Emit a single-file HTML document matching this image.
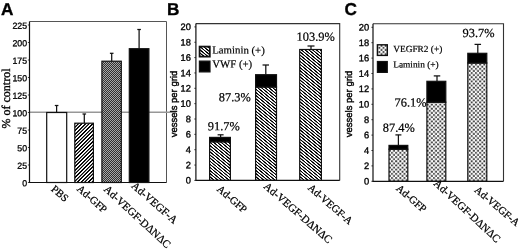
<!DOCTYPE html>
<html><head><meta charset="utf-8"><title>Figure</title>
<style>
html,body{margin:0;padding:0;background:#fff;}
svg{display:block;}
text{text-rendering:geometricPrecision;}
.bl{filter:blur(0.35px);}
.tk{font-family:"Liberation Sans",Arial,sans-serif;font-size:8.8px;fill:#000;stroke:#000;stroke-width:0.28px;}
.tk2{font-family:"Liberation Sans",Arial,sans-serif;font-size:9.3px;fill:#000;stroke:#000;stroke-width:0.35px;}
.pl{font-family:"Liberation Sans",Arial,sans-serif;font-size:17.2px;font-weight:bold;fill:#000;stroke:#000;stroke-width:0.35px;}
.yl{font-family:"Liberation Serif","Times New Roman",serif;font-size:12px;fill:#000;stroke:#000;stroke-width:0.35px;}
.yv{font-family:"Liberation Sans",Arial,sans-serif;font-size:9.5px;fill:#000;stroke:#000;stroke-width:0.4px;}
.xl{font-family:"Liberation Serif","Times New Roman",serif;font-size:10.6px;fill:#000;stroke:#000;stroke-width:0.25px;}
.lg{font-family:"Liberation Serif","Times New Roman",serif;font-size:10.8px;fill:#000;stroke:#000;stroke-width:0.2px;}
.lg2{font-family:"Liberation Serif","Times New Roman",serif;font-size:9.35px;fill:#000;stroke:#000;stroke-width:0.2px;}
.pc{font-family:"Liberation Serif","Times New Roman",serif;font-size:12.4px;fill:#000;stroke:#000;stroke-width:0.22px;}
</style></head><body>
<svg width="520" height="252" viewBox="0 0 520 252">
<defs>
<filter id="ct" color-interpolation-filters="sRGB" x="0" y="0" width="1" height="1"><feComponentTransfer><feFuncR type="linear" slope="1.8" intercept="-0.4"/><feFuncG type="linear" slope="1.8" intercept="-0.4"/><feFuncB type="linear" slope="1.8" intercept="-0.4"/></feComponentTransfer></filter>
<pattern id="dotA" width="2" height="2" patternUnits="userSpaceOnUse">
<rect width="2" height="2" fill="#303030"/>
<rect width="1" height="1" fill="#a8a8a8"/><rect x="1" y="1" width="1" height="1" fill="#a8a8a8"/>
</pattern>
<pattern id="chk" width="4.2" height="4.2" patternUnits="userSpaceOnUse" x="0.3" y="0.6">
<rect width="4.2" height="4.2" fill="#fff"/>
<rect x="0.15" y="0.15" width="1.8" height="1.8" fill="#2a2a2a"/><rect x="2.25" y="2.25" width="1.8" height="1.8" fill="#2a2a2a"/>
</pattern>
</defs>
<rect width="520" height="252" fill="#fff"/>
<g>
<clipPath id="c1"><rect x="74.8" y="123.2" width="18.60000000000001" height="59.3"/></clipPath><g clip-path="url(#c1)"><g filter="url(#ct)"><rect x="72.8" y="121.2" width="22.60000000000001" height="63.3" fill="#fff"/><path d="M72.70 122.20L11.40 183.50M76.30 122.20L15.00 183.50M79.90 122.20L18.60 183.50M83.50 122.20L22.20 183.50M87.10 122.20L25.80 183.50M90.70 122.20L29.40 183.50M94.30 122.20L33.00 183.50M97.90 122.20L36.60 183.50M101.50 122.20L40.20 183.50M105.10 122.20L43.80 183.50M108.70 122.20L47.40 183.50M112.30 122.20L51.00 183.50M115.90 122.20L54.60 183.50M119.50 122.20L58.20 183.50M123.10 122.20L61.80 183.50M126.70 122.20L65.40 183.50M130.30 122.20L69.00 183.50M133.90 122.20L72.60 183.50M137.50 122.20L76.20 183.50M141.10 122.20L79.80 183.50M144.70 122.20L83.40 183.50M148.30 122.20L87.00 183.50M151.90 122.20L90.60 183.50M155.50 122.20L94.20 183.50" stroke="#000" stroke-width="1.3" fill="none"/></g></g>
<clipPath id="c2"><rect x="209.6" y="141.8" width="20.80000000000001" height="38.599999999999994"/></clipPath><g clip-path="url(#c2)"><g filter="url(#ct)"><rect x="207.6" y="139.8" width="24.80000000000001" height="42.599999999999994" fill="#fff"/><path d="M159.25 140.80L208.05 181.40M163.00 140.80L211.80 181.40M166.75 140.80L215.55 181.40M170.50 140.80L219.30 181.40M174.25 140.80L223.05 181.40M178.00 140.80L226.80 181.40M181.75 140.80L230.55 181.40M185.50 140.80L234.30 181.40M189.25 140.80L238.05 181.40M193.00 140.80L241.80 181.40M196.75 140.80L245.55 181.40M200.50 140.80L249.30 181.40M204.25 140.80L253.05 181.40M208.00 140.80L256.80 181.40M211.75 140.80L260.55 181.40M215.50 140.80L264.30 181.40M219.25 140.80L268.05 181.40M223.00 140.80L271.80 181.40M226.75 140.80L275.55 181.40M230.50 140.80L279.30 181.40" stroke="#000" stroke-width="1.1" fill="none"/></g></g>
<clipPath id="c3"><rect x="255.6" y="87" width="20.900000000000006" height="93.4"/></clipPath><g clip-path="url(#c3)"><g filter="url(#ct)"><rect x="253.6" y="85" width="24.900000000000006" height="97.4" fill="#fff"/><path d="M139.39 86.00L254.05 181.40M143.14 86.00L257.80 181.40M146.89 86.00L261.55 181.40M150.64 86.00L265.30 181.40M154.39 86.00L269.05 181.40M158.14 86.00L272.80 181.40M161.89 86.00L276.55 181.40M165.64 86.00L280.30 181.40M169.39 86.00L284.05 181.40M173.14 86.00L287.80 181.40M176.89 86.00L291.55 181.40M180.64 86.00L295.30 181.40M184.39 86.00L299.05 181.40M188.14 86.00L302.80 181.40M191.89 86.00L306.55 181.40M195.64 86.00L310.30 181.40M199.39 86.00L314.05 181.40M203.14 86.00L317.80 181.40M206.89 86.00L321.55 181.40M210.64 86.00L325.30 181.40M214.39 86.00L329.05 181.40M218.14 86.00L332.80 181.40M221.89 86.00L336.55 181.40M225.64 86.00L340.30 181.40M229.39 86.00L344.05 181.40M233.14 86.00L347.80 181.40M236.89 86.00L351.55 181.40M240.64 86.00L355.30 181.40M244.39 86.00L359.05 181.40M248.14 86.00L362.80 181.40M251.89 86.00L366.55 181.40M255.64 86.00L370.30 181.40M259.39 86.00L374.05 181.40M263.14 86.00L377.80 181.40M266.89 86.00L381.55 181.40M270.64 86.00L385.30 181.40M274.39 86.00L389.05 181.40M278.14 86.00L392.80 181.40" stroke="#000" stroke-width="1.1" fill="none"/></g></g>
<clipPath id="c4"><rect x="299.7" y="49.5" width="21.69999999999999" height="130.9"/></clipPath><g clip-path="url(#c4)"><g filter="url(#ct)"><rect x="297.7" y="47.5" width="25.69999999999999" height="134.9" fill="#fff"/><path d="M138.42 48.50L298.15 181.40M142.17 48.50L301.90 181.40M145.92 48.50L305.65 181.40M149.67 48.50L309.40 181.40M153.42 48.50L313.15 181.40M157.17 48.50L316.90 181.40M160.92 48.50L320.65 181.40M164.67 48.50L324.40 181.40M168.42 48.50L328.15 181.40M172.17 48.50L331.90 181.40M175.92 48.50L335.65 181.40M179.67 48.50L339.40 181.40M183.42 48.50L343.15 181.40M187.17 48.50L346.90 181.40M190.92 48.50L350.65 181.40M194.67 48.50L354.40 181.40M198.42 48.50L358.15 181.40M202.17 48.50L361.90 181.40M205.92 48.50L365.65 181.40M209.67 48.50L369.40 181.40M213.42 48.50L373.15 181.40M217.17 48.50L376.90 181.40M220.92 48.50L380.65 181.40M224.67 48.50L384.40 181.40M228.42 48.50L388.15 181.40M232.17 48.50L391.90 181.40M235.92 48.50L395.65 181.40M239.67 48.50L399.40 181.40M243.42 48.50L403.15 181.40M247.17 48.50L406.90 181.40M250.92 48.50L410.65 181.40M254.67 48.50L414.40 181.40M258.42 48.50L418.15 181.40M262.17 48.50L421.90 181.40M265.92 48.50L425.65 181.40M269.67 48.50L429.40 181.40M273.42 48.50L433.15 181.40M277.17 48.50L436.90 181.40M280.92 48.50L440.65 181.40M284.67 48.50L444.40 181.40M288.42 48.50L448.15 181.40M292.17 48.50L451.90 181.40M295.92 48.50L455.65 181.40M299.67 48.50L459.40 181.40M303.42 48.50L463.15 181.40M307.17 48.50L466.90 181.40M310.92 48.50L470.65 181.40M314.67 48.50L474.40 181.40M318.42 48.50L478.15 181.40M322.17 48.50L481.90 181.40" stroke="#000" stroke-width="1.1" fill="none"/></g></g>
<clipPath id="c5"><rect x="199.6" y="46.6" width="10.200000000000017" height="10.0"/></clipPath><g clip-path="url(#c5)"><g filter="url(#ct)"><rect x="197.6" y="44.6" width="14.200000000000017" height="14.0" fill="#fff"/><path d="M183.63 45.60L198.05 57.60M187.38 45.60L201.80 57.60M191.13 45.60L205.55 57.60M194.88 45.60L209.30 57.60M198.63 45.60L213.05 57.60M202.38 45.60L216.80 57.60M206.13 45.60L220.55 57.60M209.88 45.60L224.30 57.60" stroke="#000" stroke-width="1.1" fill="none"/></g></g>
<rect x="389" y="149.2" width="18.80000000000001" height="32.10000000000002" fill="url(#chk)"/>
<rect x="426.9" y="102.2" width="18.900000000000034" height="79.10000000000001" fill="url(#chk)"/>
<rect x="467.8" y="63" width="19.0" height="118.30000000000001" fill="url(#chk)"/>
<rect x="377.4" y="44.8" width="9.900000000000034" height="10.600000000000001" fill="url(#chk)"/>
</g>
<g class="bl">
<path d="M29.5 21.5H166.5V182.5" fill="none" stroke="#555" stroke-width="1"/>
<line x1="29.5" y1="112.2" x2="176.3" y2="112.2" stroke="#979797" stroke-width="1.5"/>
<rect x="46.7" y="112.5" width="20.0" height="70.0" fill="#fff" stroke="#111" stroke-width="1.2"/>
<line x1="56.6" y1="105.5" x2="56.6" y2="112.5" stroke="#111" stroke-width="1.25"/><line x1="54.800000000000004" y1="105.5" x2="58.4" y2="105.5" stroke="#111" stroke-width="1.25"/>
<rect x="74.8" y="123.2" width="18.60000000000001" height="59.3" fill="none" stroke="#111" stroke-width="1.2"/>
<line x1="84.3" y1="114" x2="84.3" y2="123.2" stroke="#111" stroke-width="1.25"/><line x1="82.5" y1="114" x2="86.1" y2="114" stroke="#111" stroke-width="1.25"/>
<rect x="101.9" y="61.2" width="19.39999999999999" height="121.3" fill="url(#dotA)" stroke="#111" stroke-width="1.2"/>
<line x1="111.7" y1="53.3" x2="111.7" y2="61.2" stroke="#111" stroke-width="1.25"/><line x1="109.9" y1="53.3" x2="113.5" y2="53.3" stroke="#111" stroke-width="1.25"/>
<rect x="129.3" y="48.7" width="19.599999999999994" height="133.8" fill="#000" stroke="#111" stroke-width="1.2"/>
<line x1="139.1" y1="29.5" x2="139.1" y2="48.7" stroke="#111" stroke-width="1.25"/><line x1="137.29999999999998" y1="29.5" x2="140.9" y2="29.5" stroke="#111" stroke-width="1.25"/>
<path d="M29.5 21.5V182.5H166.5" fill="none" stroke="#111" stroke-width="1.2"/>
<line x1="27.9" y1="182.5" x2="29.5" y2="182.5" stroke="#111" stroke-width="0.8"/>
<text transform="translate(27.1 186.20) rotate(0.05)" class="tk" text-anchor="end">0</text>
<line x1="27.9" y1="165.0" x2="29.5" y2="165.0" stroke="#111" stroke-width="0.8"/>
<text transform="translate(27.1 168.70) rotate(0.05)" class="tk" text-anchor="end">25</text>
<line x1="27.9" y1="147.5" x2="29.5" y2="147.5" stroke="#111" stroke-width="0.8"/>
<text transform="translate(27.1 151.20) rotate(0.05)" class="tk" text-anchor="end">50</text>
<line x1="27.9" y1="130.0" x2="29.5" y2="130.0" stroke="#111" stroke-width="0.8"/>
<text transform="translate(27.1 133.70) rotate(0.05)" class="tk" text-anchor="end">75</text>
<line x1="27.9" y1="112.5" x2="29.5" y2="112.5" stroke="#111" stroke-width="0.8"/>
<text transform="translate(27.1 116.20) rotate(0.05)" class="tk" text-anchor="end">100</text>
<line x1="27.9" y1="95.0" x2="29.5" y2="95.0" stroke="#111" stroke-width="0.8"/>
<text transform="translate(27.1 98.70) rotate(0.05)" class="tk" text-anchor="end">125</text>
<line x1="27.9" y1="77.5" x2="29.5" y2="77.5" stroke="#111" stroke-width="0.8"/>
<text transform="translate(27.1 81.20) rotate(0.05)" class="tk" text-anchor="end">150</text>
<line x1="27.9" y1="60.0" x2="29.5" y2="60.0" stroke="#111" stroke-width="0.8"/>
<text transform="translate(27.1 63.70) rotate(0.05)" class="tk" text-anchor="end">175</text>
<line x1="27.9" y1="42.5" x2="29.5" y2="42.5" stroke="#111" stroke-width="0.8"/>
<text transform="translate(27.1 46.20) rotate(0.05)" class="tk" text-anchor="end">200</text>
<line x1="27.9" y1="25.0" x2="29.5" y2="25.0" stroke="#111" stroke-width="0.8"/>
<text transform="translate(27.1 28.70) rotate(0.05)" class="tk" text-anchor="end">225</text>
<text transform="translate(1 15.00) rotate(0.05)" class="pl" >A</text>
<text transform="translate(9.8 98.5) rotate(-90)" class="yl" text-anchor="middle">% of control</text>
<text transform="translate(50.5 189.9) rotate(41)" class="xl" >PBS</text>
<text transform="translate(76.2 189.8) rotate(41)" class="xl" >Ad-GFP</text>
<text transform="translate(103.2 190.1) rotate(42.7)" class="xl" style="font-size:10.95px">Ad-VEGF-DΔNΔC</text>
<text transform="translate(130.7 186.7) rotate(41)" class="xl" style="font-size:10.95px">Ad-VEGF-A </text>
<rect x="209.6" y="141.8" width="20.80000000000001" height="38.599999999999994" fill="none" stroke="#111" stroke-width="1.2"/>
<rect x="209.6" y="137.4" width="20.80000000000001" height="4.400000000000006" fill="#000" stroke="#111" stroke-width="1.2"/>
<line x1="220.6" y1="134.8" x2="220.6" y2="137.4" stroke="#111" stroke-width="1.25"/><line x1="217.6" y1="134.8" x2="223.6" y2="134.8" stroke="#111" stroke-width="1.25"/>
<rect x="255.6" y="87" width="20.900000000000006" height="93.4" fill="none" stroke="#111" stroke-width="1.2"/>
<rect x="255.6" y="74.7" width="20.900000000000006" height="12.299999999999997" fill="#000" stroke="#111" stroke-width="1.2"/>
<line x1="265.8" y1="65" x2="265.8" y2="74.5" stroke="#111" stroke-width="1.25"/><line x1="262.55" y1="65" x2="269.05" y2="65" stroke="#111" stroke-width="1.25"/>
<rect x="299.7" y="49.5" width="21.69999999999999" height="130.9" fill="none" stroke="#111" stroke-width="1.2"/>
<line x1="311" y1="46" x2="311" y2="49.5" stroke="#111" stroke-width="1.25"/><line x1="307.5" y1="46" x2="314.5" y2="46" stroke="#111" stroke-width="1.25"/>
<path d="M195.9 23.6H339.7V180.4" fill="none" stroke="#333" stroke-width="1.1"/>
<path d="M195.9 23.6V180.4H339.7" fill="none" stroke="#111" stroke-width="1.2"/>
<line x1="194.3" y1="180.4" x2="195.9" y2="180.4" stroke="#111" stroke-width="0.8"/>
<text transform="translate(190.8 183.60) rotate(0.05)" class="tk2" text-anchor="end">0</text>
<line x1="194.3" y1="165.05" x2="195.9" y2="165.05" stroke="#111" stroke-width="0.8"/>
<text transform="translate(190.8 168.25) rotate(0.05)" class="tk2" text-anchor="end">2</text>
<line x1="194.3" y1="149.70000000000002" x2="195.9" y2="149.70000000000002" stroke="#111" stroke-width="0.8"/>
<text transform="translate(190.8 152.90) rotate(0.05)" class="tk2" text-anchor="end">4</text>
<line x1="194.3" y1="134.35000000000002" x2="195.9" y2="134.35000000000002" stroke="#111" stroke-width="0.8"/>
<text transform="translate(190.8 137.55) rotate(0.05)" class="tk2" text-anchor="end">6</text>
<line x1="194.3" y1="119.0" x2="195.9" y2="119.0" stroke="#111" stroke-width="0.8"/>
<text transform="translate(190.8 122.20) rotate(0.05)" class="tk2" text-anchor="end">8</text>
<line x1="194.3" y1="103.65" x2="195.9" y2="103.65" stroke="#111" stroke-width="0.8"/>
<text transform="translate(190.8 106.85) rotate(0.05)" class="tk2" text-anchor="end">10</text>
<line x1="194.3" y1="88.30000000000001" x2="195.9" y2="88.30000000000001" stroke="#111" stroke-width="0.8"/>
<text transform="translate(190.8 91.50) rotate(0.05)" class="tk2" text-anchor="end">12</text>
<line x1="194.3" y1="72.95" x2="195.9" y2="72.95" stroke="#111" stroke-width="0.8"/>
<text transform="translate(190.8 76.15) rotate(0.05)" class="tk2" text-anchor="end">14</text>
<line x1="194.3" y1="57.60000000000001" x2="195.9" y2="57.60000000000001" stroke="#111" stroke-width="0.8"/>
<text transform="translate(190.8 60.80) rotate(0.05)" class="tk2" text-anchor="end">16</text>
<line x1="194.3" y1="42.25" x2="195.9" y2="42.25" stroke="#111" stroke-width="0.8"/>
<text transform="translate(190.8 45.45) rotate(0.05)" class="tk2" text-anchor="end">18</text>
<line x1="194.3" y1="26.900000000000006" x2="195.9" y2="26.900000000000006" stroke="#111" stroke-width="0.8"/>
<text transform="translate(190.8 30.10) rotate(0.05)" class="tk2" text-anchor="end">20</text>
<text transform="translate(176.6 104) rotate(-90)" class="yv" text-anchor="middle">vessels per grid</text>
<text transform="translate(167 15.00) rotate(0.05)" class="pl" >B</text>
<rect x="199.6" y="46.6" width="10.200000000000017" height="10.0" fill="none" stroke="#111" stroke-width="1.8"/>
<rect x="199.4" y="61.1" width="10.599999999999994" height="10.800000000000004" fill="#000" stroke="#111" stroke-width="1.2"/>
<text transform="translate(212.2 53.60) rotate(0.05)" class="lg" >Laminin (+)</text>
<text transform="translate(212.2 67.50) rotate(0.05)" class="lg" >VWF (+)</text>
<text transform="translate(207.8 130.20) rotate(0.05)" class="pc" >91.7%</text>
<text transform="translate(218.8 101.20) rotate(0.05)" class="pc" >87.3%</text>
<text transform="translate(296.6 40.80) rotate(0.05)" class="pc" >103.9%</text>
<text transform="translate(216.2 189.9) rotate(41)" class="xl" >Ad-GFP</text>
<text transform="translate(263.1 187.2) rotate(41)" class="xl" style="font-size:10.95px">Ad-VEGF-DΔNΔC</text>
<text transform="translate(307.3 188.8) rotate(41)" class="xl" >Ad-VEGF-A</text>
<rect x="389" y="149.2" width="18.80000000000001" height="32.10000000000002" fill="none" stroke="#111" stroke-width="1.2"/>
<rect x="389" y="145.4" width="18.80000000000001" height="3.799999999999983" fill="#000" stroke="#111" stroke-width="1.2"/>
<line x1="398.4" y1="134.9" x2="398.4" y2="145.4" stroke="#111" stroke-width="1.25"/><line x1="395.4" y1="134.9" x2="401.4" y2="134.9" stroke="#111" stroke-width="1.25"/>
<rect x="426.9" y="102.2" width="18.900000000000034" height="79.10000000000001" fill="none" stroke="#111" stroke-width="1.2"/>
<rect x="426.9" y="81.3" width="18.900000000000034" height="20.900000000000006" fill="#000" stroke="#111" stroke-width="1.2"/>
<line x1="437" y1="75.9" x2="437" y2="81.3" stroke="#111" stroke-width="1.25"/><line x1="433.75" y1="75.9" x2="440.25" y2="75.9" stroke="#111" stroke-width="1.25"/>
<rect x="467.8" y="63" width="19.0" height="118.30000000000001" fill="none" stroke="#111" stroke-width="1.2"/>
<rect x="467.8" y="53.3" width="19.0" height="9.700000000000003" fill="#000" stroke="#111" stroke-width="1.2"/>
<line x1="477.8" y1="44.4" x2="477.8" y2="53.3" stroke="#111" stroke-width="1.25"/><line x1="474.55" y1="44.4" x2="481.05" y2="44.4" stroke="#111" stroke-width="1.25"/>
<path d="M373 23.7H503.5V181.3" fill="none" stroke="#333" stroke-width="1.1"/>
<path d="M373 23.7V181.3H503.5" fill="none" stroke="#111" stroke-width="1.2"/>
<line x1="371.4" y1="181.3" x2="373" y2="181.3" stroke="#111" stroke-width="0.8"/>
<text transform="translate(369.2 184.50) rotate(0.05)" class="tk2" text-anchor="end">0</text>
<line x1="371.4" y1="165.9" x2="373" y2="165.9" stroke="#111" stroke-width="0.8"/>
<text transform="translate(369.2 169.10) rotate(0.05)" class="tk2" text-anchor="end">2</text>
<line x1="371.4" y1="150.5" x2="373" y2="150.5" stroke="#111" stroke-width="0.8"/>
<text transform="translate(369.2 153.70) rotate(0.05)" class="tk2" text-anchor="end">4</text>
<line x1="371.4" y1="135.10000000000002" x2="373" y2="135.10000000000002" stroke="#111" stroke-width="0.8"/>
<text transform="translate(369.2 138.30) rotate(0.05)" class="tk2" text-anchor="end">6</text>
<line x1="371.4" y1="119.70000000000002" x2="373" y2="119.70000000000002" stroke="#111" stroke-width="0.8"/>
<text transform="translate(369.2 122.90) rotate(0.05)" class="tk2" text-anchor="end">8</text>
<line x1="371.4" y1="104.30000000000001" x2="373" y2="104.30000000000001" stroke="#111" stroke-width="0.8"/>
<text transform="translate(369.2 107.50) rotate(0.05)" class="tk2" text-anchor="end">10</text>
<line x1="371.4" y1="88.9" x2="373" y2="88.9" stroke="#111" stroke-width="0.8"/>
<text transform="translate(369.2 92.10) rotate(0.05)" class="tk2" text-anchor="end">12</text>
<line x1="371.4" y1="73.50000000000001" x2="373" y2="73.50000000000001" stroke="#111" stroke-width="0.8"/>
<text transform="translate(369.2 76.70) rotate(0.05)" class="tk2" text-anchor="end">14</text>
<line x1="371.4" y1="58.10000000000001" x2="373" y2="58.10000000000001" stroke="#111" stroke-width="0.8"/>
<text transform="translate(369.2 61.30) rotate(0.05)" class="tk2" text-anchor="end">16</text>
<line x1="371.4" y1="42.70000000000002" x2="373" y2="42.70000000000002" stroke="#111" stroke-width="0.8"/>
<text transform="translate(369.2 45.90) rotate(0.05)" class="tk2" text-anchor="end">18</text>
<line x1="371.4" y1="27.30000000000001" x2="373" y2="27.30000000000001" stroke="#111" stroke-width="0.8"/>
<text transform="translate(369.2 30.50) rotate(0.05)" class="tk2" text-anchor="end">20</text>
<text transform="translate(352.3 104) rotate(-90)" class="yv" text-anchor="middle">vessels per grid</text>
<text transform="translate(344.4 15.00) rotate(0.05)" class="pl" >C</text>
<rect x="377.4" y="44.8" width="9.900000000000034" height="10.600000000000001" fill="none" stroke="#111" stroke-width="1.4"/>
<rect x="377.4" y="61.5" width="9.900000000000034" height="10.900000000000006" fill="#000" stroke="#111" stroke-width="1.2"/>
<text transform="translate(393.2 52.00) rotate(0.05)" class="lg2" >VEGFR2 (+)</text>
<text transform="translate(393.2 67.40) rotate(0.05)" class="lg2" >Laminin (+)</text>
<text transform="translate(382.8 131.80) rotate(0.05)" class="pc" >87.4%</text>
<text transform="translate(394.6 106.60) rotate(0.05)" class="pc" >76.1%</text>
<text transform="translate(462.5 37.00) rotate(0.05)" class="pc" >93.7%</text>
<text transform="translate(395.6 189.3) rotate(41)" class="xl" >Ad-GFP</text>
<text transform="translate(433.1 184.3) rotate(42.9)" class="xl" style="font-size:10.95px">Ad-VEGF-DΔNΔC</text>
<text transform="translate(473.8 191.1) rotate(40)" class="xl" >Ad-VEGF-A</text>
</g>
</svg>
</body></html>
